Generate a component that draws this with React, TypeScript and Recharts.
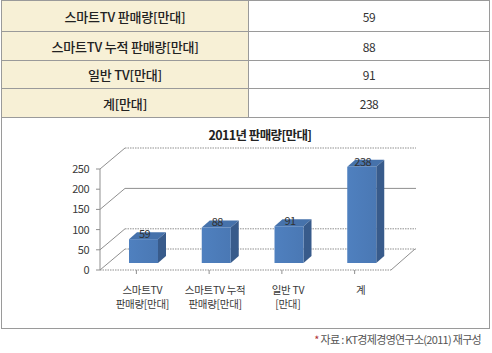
import React from "react";
import { BarChart, Bar, XAxis, YAxis, CartesianGrid, LabelList } from "recharts";

const tableLabels = ["스마트TV 판매량[만대]", "스마트TV 누적 판매량[만대]", "일반 TV[만대]", "계[만대]"];
const values = [59, 88, 91, 238];
const axisLabels = [["스마트TV", "판매량[만대]"], ["스마트TV 누적", "판매량[만대]"], ["일반 TV", "[만대]"], ["계"]];
const yTicks = [0, 50, 100, 150, 200, 250];
const title = "2011년 판매량[만대]";
const source = "자료 : KT경제경영연구소(2011) 재구성";

const data = values.map((v, i) => ({ name: String(i), value: v, lines: axisLabels[i] }));

const FONT = "'Noto Sans CJK KR', 'Noto Sans', sans-serif";
const DEPTH_X = 25;
const DEPTH_Y = 21;
const BAR_OFF_X = 7;
const BAR_OFF_Y = 7;
const BAR_DX = 8;
const BAR_DY = 7;

const Bar3D = (p: any) => {
  const { x, y, width, height } = p;
  const fx = x + BAR_OFF_X;
  const fy = y - BAR_OFF_Y;
  return (
    <g>
      <polygon
        points={`${fx},${fy} ${fx + width},${fy} ${fx + width + BAR_DX},${fy - BAR_DY} ${fx + BAR_DX},${fy - BAR_DY}`}
        fill="#4672ab"
      />
      <polygon
        points={`${fx + width},${fy} ${fx + width + BAR_DX},${fy - BAR_DY} ${fx + width + BAR_DX},${fy - BAR_DY + height} ${fx + width},${fy + height}`}
        fill="#385b8b"
      />
      <rect x={fx} y={fy} width={width} height={height} fill="url(#frontGrad)" />
    </g>
  );
};

const gridLine = (p: any) => {
  const { x1, x2, y1, index } = p;
  const isFloor = p.y !== undefined && p.height !== undefined ? Math.abs(y1 - (p.y + p.height)) < 0.5 : index === 0;
  const dotted = [true, false, true, true, false, false];
  const dash = dotted[index] ? "1.5 1" : undefined;
  return (
    <g key={`gl-${index}`}>
      <line x1={x1} y1={y1} x2={x1 + DEPTH_X} y2={y1 - DEPTH_Y} stroke="#8f8f8f" strokeWidth={1} />
      <line x1={x1 + DEPTH_X} y1={y1 - DEPTH_Y} x2={x2 + DEPTH_X} y2={y1 - DEPTH_Y} stroke="#8f8f8f" strokeWidth={1} strokeDasharray={dash} />
      {isFloor && (
        <line x1={x2} y1={y1} x2={x2 + DEPTH_X - 1} y2={y1 - DEPTH_Y} stroke="#8f8f8f" strokeWidth={1} />
      )}
    </g>
  );
};

const XTick = (p: any) => {
  const { x, y, index } = p;
  const lines = axisLabels[index] || [];
  return (
    <g>
      {lines.map((l: string, i: number) => (
        <text
          key={i}
          x={x + 6}
          y={y + 17.5 + i * 14}
          textAnchor="middle"
          fill="#3a3a3a"
          fontSize={10.5}
          fontFamily={FONT}
          letterSpacing={-0.3}
        >
          {l}
        </text>
      ))}
    </g>
  );
};

const ValueLabel = (p: any) => {
  const { x, y, width, value } = p;
  return (
    <text
      x={x + width / 2 + BAR_OFF_X + BAR_DX / 2 - 3}
      y={y - BAR_OFF_Y - 1}
      textAnchor="middle"
      fill="#333"
      fontSize={11}
      fontFamily={FONT}
      letterSpacing={-0.5}
    >
      {value}
    </text>
  );
};

export default function App() {
  const rowH = [31, 29, 28, 29];
  return (
    <div style={{ position: "absolute", left: 0, top: 0, width: 492, height: 353, background: "#fff", fontFamily: FONT, overflow: "hidden" }}>
      <table
        style={{
          position: "absolute",
          left: 1,
          top: 0,
          width: 489,
          borderCollapse: "collapse",
          tableLayout: "fixed",
        }}
      >
        <tbody>
          {tableLabels.map((label, i) => (
            <tr key={i} style={{ height: rowH[i] }}>
              <td
                style={{
                  width: 246,
                  background: "#f7f0d6",
                  border: "1px solid #9a9a9a",
                  textAlign: "center",
                  fontSize: 13,
                  fontWeight: 500,
                  letterSpacing: -0.2,
                  color: "#222",
                  padding: 0,
                }}
              >
                {label}
              </td>
              <td
                style={{
                  border: "1px solid #9a9a9a",
                  textAlign: "center",
                  fontSize: 12,
                  letterSpacing: -0.5,
                  color: "#333",
                  padding: 0,
                }}
              >
                {values[i]}
              </td>
            </tr>
          ))}
        </tbody>
      </table>
      <div
        style={{
          position: "absolute",
          left: 1,
          top: 116,
          width: 487,
          height: 212,
          border: "1px solid #9a9a9a",
          borderTop: "none",
        }}
      />
      <div
        style={{
          position: "absolute",
          left: 160,
          width: 200,
          top: 126,
          textAlign: "center",
          fontSize: 12.5,
          fontWeight: 700,
          letterSpacing: -0.6,
          color: "#222",
          lineHeight: "17px",
        }}
      >
        {title}
      </div>
      <div
        style={{
          position: "absolute",
          right: 11,
          top: 332,
          fontSize: 11,
          letterSpacing: -0.7,
          color: "#555",
          lineHeight: "15px",
        }}
      >
        <span style={{ color: "#b03030" }}>* </span>
        {source}
      </div>
      <div style={{ position: "absolute", left: 0, top: 0 }}>
        <BarChart
          width={492}
          height={353}
          data={data}
          margin={{ top: 169, right: 101, bottom: 43, left: 60 }}
        >
          <defs>
            <linearGradient id="frontGrad" x1="0" y1="0" x2="1" y2="0">
              <stop offset="0%" stopColor="#4f80bf" />
              <stop offset="100%" stopColor="#4a78b4" />
            </linearGradient>
          </defs>
          <CartesianGrid vertical={false} horizontal={gridLine} />
          <XAxis
            dataKey="name"
            height={40}
            tickSize={4}
            tickLine={{ stroke: "#8f8f8f" }}
            axisLine={{ stroke: "#8f8f8f", strokeDasharray: "1.5 1" }}
            tick={<XTick />}
            interval={0}
          />
          <YAxis
            width={40}
            domain={[0, 250]}
            ticks={yTicks}
            tickSize={4}
            tickMargin={7}
            tickLine={{ stroke: "#8f8f8f" }}
            axisLine={{ stroke: "#8f8f8f" }}
            tick={{ fill: "#3a3a3a", fontSize: 11, fontFamily: FONT, letterSpacing: -0.5 }}
          />
          <Bar dataKey="value" barSize={29} shape={<Bar3D />} isAnimationActive={false}>
            <LabelList dataKey="value" content={<ValueLabel />} />
          </Bar>
        </BarChart>
      </div>
    </div>
  );
}
